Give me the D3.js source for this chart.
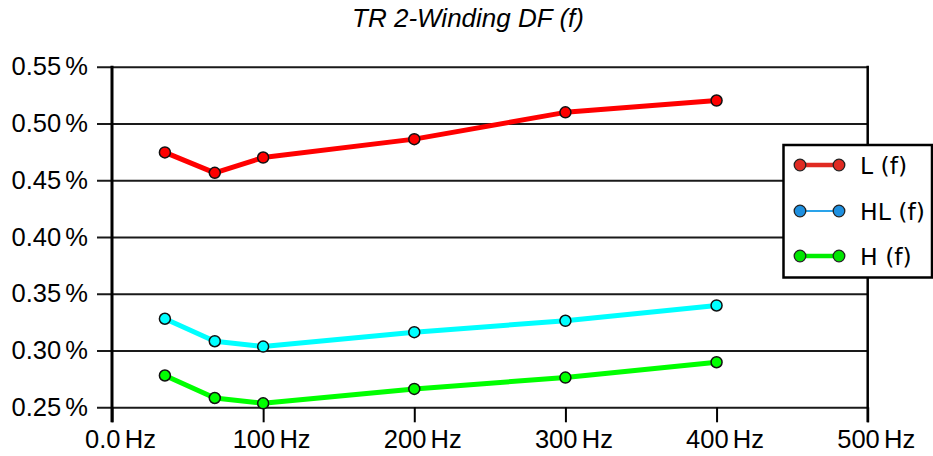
<!DOCTYPE html>
<html>
<head>
<meta charset="utf-8">
<script src="https://cdn.jsdelivr.net/npm/d3@7"></script>
<style>
  html, body { margin: 0; padding: 0; background: #fff; }
  svg { display: block; font-family: "Liberation Sans", Arial, sans-serif; }
</style>
</head>
<body>
<svg id="chart" width="933" height="456"></svg>
<script>
// ---- data ----
const frequencies = [35, 68, 100, 200, 300, 400];          // Hz
const seriesNames = ["L (f)", "HL (f)", "H (f)"];
const valuesL  = [0.4745, 0.4565, 0.4700, 0.4862, 0.5098, 0.5202]; // %
const valuesHL = [0.3280, 0.3082, 0.3035, 0.3162, 0.3262, 0.3397]; // %
const valuesH  = [0.2780, 0.2582, 0.2535, 0.2662, 0.2762, 0.2897]; // %
const xTickValues = [0, 100, 200, 300, 400, 500];
const xTickLabels = ["0.0\u2006Hz", "100\u2006Hz", "200\u2006Hz", "300\u2006Hz", "400\u2006Hz", "500\u2006Hz"];
const yTickValues = [0.25, 0.30, 0.35, 0.40, 0.45, 0.50, 0.55];
const yTickLabels = ["0.25\u2006%", "0.30\u2006%", "0.35\u2006%", "0.40\u2006%", "0.45\u2006%", "0.50\u2006%", "0.55\u2006%"];
const titleText = "TR 2-Winding DF (f)";

(function () {
// ---- layout ----
const svg = d3.select("#chart");
const pLeft = 112, pRight = 867.7, pTop = 66.7, pBottom = 407.3;
const x = d3.scaleLinear().domain([0, 500]).range([pLeft, pRight]);
const y = d3.scaleLinear().domain([0.25, 0.55]).range([pBottom, pTop]);

const lineColors   = ["#ff0000", "#00ffff", "#00ff00"];
const legendLine   = ["#e02a22", "#2aa3ea", "#00ee00"];
const legendMarker = ["#e02a22", "#1e90e0", "#00e600"];
const legendLineW  = [4.5, 2, 4.5];
const allSeries = [valuesL, valuesHL, valuesH];
const fontMain = "'Liberation Sans', Arial, sans-serif";

// title
svg.append("text")
  .attr("x", 468).attr("y", 27)
  .attr("text-anchor", "middle")
  .attr("font-style", "italic")
  .attr("font-size", 26)
  .attr("font-family", fontMain)
  .attr("fill", "#000")
  .text(titleText);

// y gridlines + labels via axis
const yAxis = d3.axisLeft(y)
  .tickValues(yTickValues)
  .tickFormat((d, i) => yTickLabels[i])
  .tickSizeInner(pRight - pLeft + 15)
  .tickSizeOuter(0)
  .tickPadding(9);
const gy = svg.append("g").attr("transform", `translate(${pRight},0)`).call(yAxis);
gy.select(".domain").remove();
gy.selectAll(".tick line").attr("stroke", "#1a1a1a").attr("stroke-width", 2);
gy.selectAll(".tick text").attr("font-size", 25.5).attr("fill", "#000")
  .attr("font-family", fontMain);

// x axis ticks + labels
const xAxis = d3.axisBottom(x)
  .tickValues(xTickValues)
  .tickFormat((d, i) => xTickLabels[i])
  .tickSizeInner(15)
  .tickSizeOuter(0)
  .tickPadding(8);
const gx = svg.append("g").attr("transform", `translate(0,${pBottom})`).call(xAxis);
gx.select(".domain").remove();
gx.selectAll(".tick line").attr("stroke", "#000").attr("stroke-width", 2);
gx.selectAll(".tick text").attr("font-size", 25.5).attr("fill", "#000")
  .attr("dx", 8)
  .attr("font-family", fontMain);

// vertical frame lines
svg.append("line").attr("x1", x(0)).attr("x2", x(0)).attr("y1", pTop - 1).attr("y2", pBottom + 15)
  .attr("stroke", "#000").attr("stroke-width", 3);
svg.append("line").attr("x1", x(500)).attr("x2", x(500)).attr("y1", pTop - 1).attr("y2", pBottom + 15)
  .attr("stroke", "#000").attr("stroke-width", 2.5);

// series
const line = d3.line().x((d, i) => x(frequencies[i])).y(d => y(d));
allSeries.forEach((vals, s) => {
  svg.append("path").datum(vals)
    .attr("d", line)
    .attr("fill", "none")
    .attr("stroke", lineColors[s])
    .attr("stroke-width", 5)
    .attr("stroke-linejoin", "round");
});
allSeries.forEach((vals, s) => {
  svg.append("g").selectAll("circle").data(vals).join("circle")
    .attr("cx", (d, i) => x(frequencies[i]))
    .attr("cy", d => y(d))
    .attr("r", 5.5)
    .attr("fill", lineColors[s])
    .attr("stroke", "#111")
    .attr("stroke-width", 1.5);
});

// legend
const lg = svg.append("g");
lg.append("rect").attr("x", 783.5).attr("y", 145).attr("width", 148.5).attr("height", 132.5)
  .attr("fill", "#fff").attr("stroke", "#000").attr("stroke-width", 2.5);
const rowY = [165, 211, 256];
seriesNames.forEach((name, s) => {
  const r = lg.append("g");
  r.append("line").attr("x1", 800).attr("x2", 839).attr("y1", rowY[s]).attr("y2", rowY[s])
    .attr("stroke", legendLine[s]).attr("stroke-width", legendLineW[s]);
  [800, 839].forEach(cx => r.append("circle").attr("cx", cx).attr("cy", rowY[s]).attr("r", 5.8)
    .attr("fill", legendMarker[s]).attr("stroke", "#222").attr("stroke-width", 1.3));
  r.append("text").attr("x", 860).attr("y", rowY[s] + 9)
    .attr("font-size", 23.5).attr("fill", "#000")
    .attr("font-family", "'DejaVu Sans', sans-serif")
    .text(name);
});
})();
</script>
</body>
</html>
